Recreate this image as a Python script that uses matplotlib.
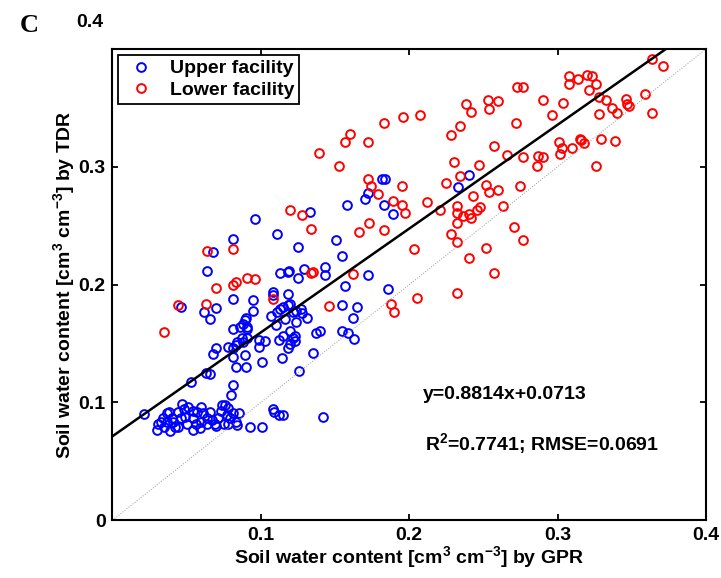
import numpy as np
import matplotlib
matplotlib.use("Agg")
import matplotlib.pyplot as plt

plt.rcParams['font.family'] = ['Liberation Sans', 'DejaVu Sans']
plt.rcParams['font.weight'] = 'bold'
plt.rcParams['axes.labelweight'] = 'bold'
plt.rcParams['mathtext.fontset'] = 'custom'
plt.rcParams['mathtext.rm'] = 'Liberation Sans:bold'
plt.rcParams['mathtext.bf'] = 'Liberation Sans:bold'
plt.rcParams['mathtext.it'] = 'Liberation Sans:bold'

# Upper facility (GPR, TDR)
upper_gpr = [0.182, 0.184, 0.172, 0.170, 0.158, 0.183, 0.189, 0.133, 0.096, 0.111,
             0.125, 0.081, 0.068, 0.064, 0.151, 0.155, 0.143, 0.143, 0.113, 0.118,
             0.119, 0.129, 0.125, 0.172, 0.240, 0.233, 0.157, 0.186, 0.108, 0.108,
             0.118, 0.081, 0.095, 0.095, 0.062, 0.070, 0.066, 0.046, 0.155, 0.165,
             0.162, 0.107, 0.111, 0.113, 0.115, 0.118, 0.120, 0.122, 0.124, 0.127,
             0.128, 0.131, 0.116, 0.124, 0.090, 0.089, 0.088, 0.091, 0.091, 0.086,
             0.081, 0.137, 0.140, 0.155, 0.159, 0.163, 0.120, 0.122, 0.120, 0.118,
             0.112, 0.115, 0.099, 0.103, 0.099, 0.087, 0.088, 0.091, 0.083, 0.081,
             0.078, 0.070, 0.068, 0.081, 0.089, 0.114, 0.135, 0.101, 0.083, 0.090,
             0.126, 0.063, 0.066, 0.053, 0.081, 0.080, 0.021, 0.108, 0.109, 0.112,
             0.115, 0.142, 0.093, 0.101, 0.110, 0.123, 0.123, 0.084,
             0.030, 0.031, 0.034, 0.037, 0.038, 0.040, 0.037, 0.035, 0.039, 0.042,
             0.044, 0.041, 0.046, 0.047, 0.048, 0.049, 0.051, 0.054, 0.054, 0.056,
             0.054, 0.059, 0.060, 0.060, 0.061, 0.064, 0.066, 0.064, 0.067, 0.069,
             0.070, 0.071, 0.073, 0.074, 0.076, 0.078, 0.077, 0.079, 0.081, 0.083,
             0.084, 0.085, 0.075, 0.078, 0.057, 0.044, 0.050, 0.033]
upper_tdr = [0.290, 0.290, 0.278, 0.273, 0.268, 0.268, 0.260, 0.262, 0.256, 0.243,
             0.232, 0.239, 0.228, 0.212, 0.238, 0.224, 0.215, 0.208, 0.210, 0.211,
             0.212, 0.213, 0.206, 0.208, 0.293, 0.283, 0.199, 0.196, 0.194, 0.191,
             0.192, 0.188, 0.187, 0.178, 0.177, 0.180, 0.171, 0.181, 0.183, 0.181,
             0.172, 0.173, 0.177, 0.179, 0.181, 0.183, 0.184, 0.177, 0.178, 0.179,
             0.176, 0.172, 0.171, 0.168, 0.172, 0.170, 0.167, 0.164, 0.162, 0.164,
             0.162, 0.159, 0.161, 0.161, 0.159, 0.154, 0.161, 0.155, 0.150, 0.146,
             0.153, 0.156, 0.153, 0.152, 0.147, 0.155, 0.151, 0.155, 0.149, 0.146,
             0.147, 0.146, 0.141, 0.139, 0.140, 0.138, 0.142, 0.134, 0.130, 0.130,
             0.127, 0.125, 0.124, 0.117, 0.115, 0.106, 0.090, 0.094, 0.092, 0.089,
             0.089, 0.088, 0.079, 0.079, 0.166, 0.156, 0.152, 0.151,
             0.077, 0.082, 0.087, 0.091, 0.092, 0.087, 0.083, 0.079, 0.076, 0.079,
             0.079, 0.083, 0.087, 0.099, 0.094, 0.088, 0.096, 0.093, 0.087, 0.082,
             0.077, 0.078, 0.083, 0.096, 0.091, 0.087, 0.092, 0.082, 0.085, 0.082,
             0.080, 0.087, 0.093, 0.098, 0.098, 0.095, 0.089, 0.087, 0.091, 0.083,
             0.081, 0.091, 0.082, 0.082, 0.092, 0.092, 0.082, 0.083]

# Lower facility (GPR, TDR)
lower_gpr = [0.364, 0.371, 0.308, 0.314, 0.320, 0.323, 0.308, 0.326, 0.321, 0.273,
             0.277, 0.253, 0.260, 0.254, 0.238, 0.242, 0.290, 0.304, 0.296, 0.328,
             0.333, 0.346, 0.347, 0.348, 0.359, 0.337, 0.340, 0.328, 0.364, 0.196,
             0.207, 0.234, 0.228, 0.272, 0.257, 0.266, 0.277, 0.287, 0.290, 0.286,
             0.301, 0.303, 0.302, 0.310, 0.315, 0.316, 0.318, 0.329, 0.339, 0.326,
             0.230, 0.247, 0.234, 0.225, 0.252, 0.254, 0.260, 0.275, 0.243, 0.212,
             0.195, 0.195, 0.197, 0.221, 0.232, 0.232, 0.248, 0.246, 0.240, 0.242,
             0.236, 0.263, 0.232, 0.228, 0.232, 0.271, 0.277, 0.203, 0.252, 0.240,
             0.257, 0.205, 0.232, 0.188, 0.190, 0.139, 0.153, 0.157, 0.160, 0.172,
             0.183, 0.172, 0.174, 0.179, 0.189, 0.173, 0.183, 0.166, 0.120, 0.128,
             0.134, 0.064, 0.081, 0.081, 0.083, 0.091, 0.096, 0.070, 0.134, 0.135,
             0.162, 0.044, 0.063, 0.108, 0.146, 0.035]
lower_tdr = [0.392, 0.386, 0.377, 0.375, 0.378, 0.377, 0.370, 0.370, 0.365, 0.368,
             0.368, 0.357, 0.356, 0.349, 0.353, 0.347, 0.357, 0.354, 0.344, 0.359,
             0.357, 0.358, 0.353, 0.352, 0.362, 0.350, 0.346, 0.345, 0.346, 0.342,
             0.344, 0.335, 0.327, 0.337, 0.318, 0.310, 0.308, 0.309, 0.308, 0.301,
             0.321, 0.316, 0.311, 0.316, 0.324, 0.323, 0.320, 0.324, 0.322, 0.301,
             0.304, 0.302, 0.292, 0.286, 0.285, 0.279, 0.280, 0.284, 0.275, 0.270,
             0.284, 0.268, 0.261, 0.263, 0.267, 0.261, 0.266, 0.263, 0.260, 0.257,
             0.258, 0.267, 0.252, 0.243, 0.236, 0.249, 0.238, 0.230, 0.231, 0.223,
             0.210, 0.189, 0.193, 0.184, 0.177, 0.312, 0.301, 0.321, 0.328, 0.321,
             0.337, 0.290, 0.284, 0.277, 0.271, 0.252, 0.246, 0.245, 0.263, 0.259,
             0.247, 0.229, 0.230, 0.200, 0.202, 0.206, 0.205, 0.197, 0.210, 0.211,
             0.209, 0.183, 0.184, 0.188, 0.182, 0.160]

# fit and stats shown in the panel
slope = 0.8814
intercept = 0.0713
r2 = 0.7741
rmse = 0.0691

fs = 14

fig = plt.figure(figsize=(7.21, 5.78), dpi=100)
ax = fig.add_axes([0.156, 0.100, 0.823, 0.815])

ax.plot(upper_gpr, upper_tdr, 'o', color=(0, 0, 1), mfc='none', ms=6.3, mew=1.4,
        label='Upper facility')
ax.plot(lower_gpr, lower_tdr, 'o', color=(1, 0, 0), mfc='none', ms=6.3, mew=1.4,
        label='Lower facility')

xx = np.array([0, 0.4])
ax.plot(xx, xx, ':', color='0.6', lw=0.7)
ax.plot(xx, slope * xx + intercept, '-', color='k', lw=1.8)

ax.set_xlim(0, 0.4)
ax.set_ylim(0, 0.4)
ax.set_xticks([0.1, 0.2, 0.3, 0.4])
ax.set_xticklabels(['0.1', '0.2', '0.3', '0.4'])
ax.set_yticks([0, 0.1, 0.2, 0.3, 0.4])
ax.set_yticklabels(['0', '0.1', '0.2', '0.3', ''])
# the 0.4 label sits above the axes corner in the original
ax.text(-0.016, 1.057, '0.4', transform=ax.transAxes, ha='right', va='center',
        fontsize=fs, fontweight='bold')

ax.tick_params(direction='in', top=True, right=True, length=4, width=1.3,
               labelsize=fs)
ax.tick_params(axis='x', pad=5)
ax.tick_params(axis='y', pad=5)
for s in ax.spines.values():
    s.set_linewidth(1.5)

ax.set_xlabel(r'Soil water content [cm$^{3}$ cm$^{-3}$] by GPR', fontsize=fs,
              labelpad=0)
ax.set_ylabel(r'Soil water content [cm$^{3}$ cm$^{-3}$] by TDR', fontsize=fs,
              labelpad=1)

ax.text(0.209, 0.107, f'y={slope}x+{intercept}', fontsize=fs, fontweight='bold',
        va='center')
ax.text(0.211, 0.065, f'R$^{{2}}$={r2}; RMSE={rmse}', fontsize=fs,
        fontweight='bold', va='center')

leg = ax.legend(loc='upper left', fontsize=fs, fancybox=False, framealpha=1,
                edgecolor='k', borderaxespad=0.3, handletextpad=0.6,
                borderpad=0.25, labelspacing=0.2, handlelength=1.8)
leg.get_frame().set_linewidth(1.3)

fig.text(0.028, 0.975, 'C', family='Liberation Serif', fontweight='bold',
         fontsize=19, va='top')

fig.savefig('out.png', dpi=100)
